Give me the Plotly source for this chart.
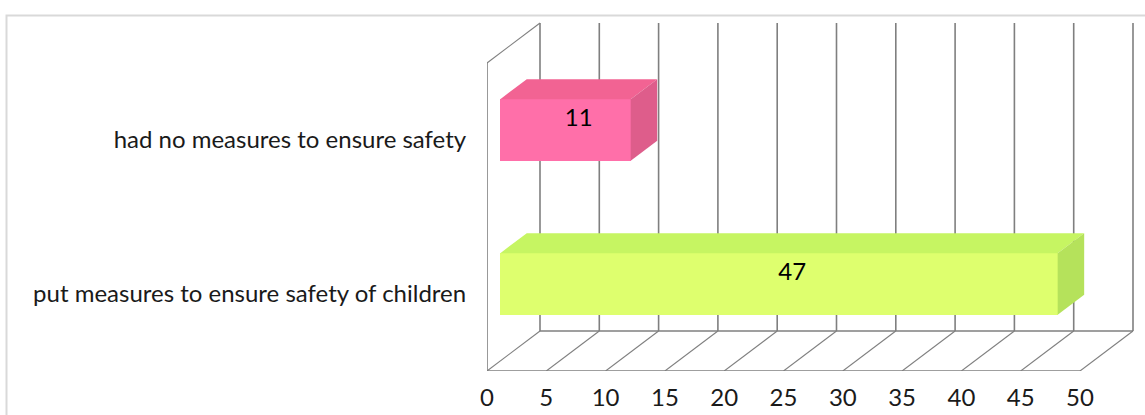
import plotly.graph_objects as go

# ---- data ----
categories = ["put measures to ensure safety of children", "had no measures to ensure safety"]
values = [47, 11]
x_ticks = [0, 5, 10, 15, 20, 25, 30, 35, 40, 45, 50]

# ---- styling ----
front_colors = ["#DEFF6E", "#FF6FA9"]
top_colors = ["#C6F562", "#F26393"]
side_colors = ["#B5E25B", "#DE5D8B"]
GRID = "#7F7F7F"
FONT = "Lato"
FS = 24

# ---- geometry of the oblique 3-D frame (axis units) ----
W, H = 1145, 415
ML, MR, MT, MB = 487, 5, 20, 44
PX_X = 593 / 50          # pixels per value unit
PX_Y = 154               # pixels per category band
DX = 53 / PX_X           # depth shift along x (value units)
DY = 40 / PX_Y           # depth shift along y (category units)
BAR_H = 0.4              # bar thickness (band fraction)
Z0, Z1 = 0.25, 0.75      # bar depth span (fraction of wall depth)

x_range = [0, (W - ML - MR) / PX_X]
y_range = [-0.5, -0.5 + (H - MT - MB) / PX_Y]
y_pos = list(range(len(categories)))
y_bot, y_top = -0.5, len(categories) - 0.5
x_max = x_ticks[-1]

shapes = []
line = dict(color=GRID, width=1.6)
thin = dict(color=GRID, width=1.1)
# back wall gridlines
for t in x_ticks:
    shapes.append(dict(type="line", xref="x", yref="y", layer="below",
                       x0=t + DX, x1=t + DX, y0=y_bot + DY, y1=y_top + DY, line=line))
# floor: front edge, back edge and depth lines
shapes.append(dict(type="line", xref="x", yref="y", layer="below",
                   x0=0, x1=x_max, y0=y_bot, y1=y_bot, line=line))
shapes.append(dict(type="line", xref="x", yref="y", layer="below",
                   x0=DX, x1=x_max + DX, y0=y_bot + DY, y1=y_bot + DY, line=line))
for t in x_ticks:
    shapes.append(dict(type="line", xref="x", yref="y", layer="below",
                       x0=t, x1=t + DX, y0=y_bot, y1=y_bot + DY, line=thin))
# side wall
shapes.append(dict(type="line", xref="x", yref="y", layer="below",
                   x0=0, x1=0, y0=y_bot, y1=y_top, line=line))
shapes.append(dict(type="line", xref="x", yref="y", layer="below",
                   x0=0, x1=DX, y0=y_top, y1=y_top + DY, line=thin))
# chart frame
px_to_paper_x = lambda p: (p - ML) / (W - ML - MR)
px_to_paper_y = lambda p: (H - MB - p) / (H - MT - MB)
shapes.append(dict(type="rect", xref="paper", yref="paper", layer="below",
                   x0=px_to_paper_x(6.5), x1=px_to_paper_x(W + 20),
                   y0=px_to_paper_y(H + 20), y1=px_to_paper_y(15.5),
                   line=dict(color="#D9D9D9", width=2), fillcolor="rgba(0,0,0,0)"))

fig = go.Figure()

for i, (yc, v) in enumerate(zip(y_pos, values)):
    lo, hi = yc - BAR_H / 2, yc + BAR_H / 2
    # front face
    fig.add_trace(go.Bar(
        y=[yc + Z0 * DY], x=[v], base=[Z0 * DX], orientation="h", width=BAR_H,
        marker=dict(color=front_colors[i], line=dict(color=front_colors[i], width=0)),
        hoverinfo="skip", showlegend=False))
    # top face
    fig.add_trace(go.Scatter(
        x=[Z0 * DX, v + Z0 * DX, v + Z1 * DX, Z1 * DX, Z0 * DX],
        y=[hi + Z0 * DY, hi + Z0 * DY, hi + Z1 * DY, hi + Z1 * DY, hi + Z0 * DY],
        fill="toself", fillcolor=top_colors[i], mode="lines",
        line=dict(width=0, color=top_colors[i]), hoverinfo="skip", showlegend=False))
    # side face
    fig.add_trace(go.Scatter(
        x=[v + Z0 * DX, v + Z1 * DX, v + Z1 * DX, v + Z0 * DX, v + Z0 * DX],
        y=[lo + Z0 * DY, lo + Z1 * DY, hi + Z1 * DY, hi + Z0 * DY, lo + Z0 * DY],
        fill="toself", fillcolor=side_colors[i], mode="lines",
        line=dict(width=0, color=side_colors[i]), hoverinfo="skip", showlegend=False))

# value labels at the centre of each box
fig.add_trace(go.Scatter(
    x=[v / 2 + (Z0 + Z1) / 2 * DX for v in values],
    y=[yc + (Z0 + Z1) / 2 * DY for yc in y_pos],
    text=[str(v) for v in values], mode="text",
    textfont=dict(family=FONT, size=FS, color="#000000"),
    hoverinfo="skip", showlegend=False))

fig.update_layout(
    width=W, height=H, autosize=False,
    margin=dict(l=ML, r=MR, t=MT, b=MB, pad=0),
    paper_bgcolor="white", plot_bgcolor="white",
    shapes=shapes, showlegend=False, bargap=0,
    font=dict(family=FONT, size=FS, color="#1A1A1A"),
)
fig.update_xaxes(
    range=x_range, tickvals=x_ticks, ticktext=[str(t) for t in x_ticks],
    tickfont=dict(family=FONT, size=FS, color="#1A1A1A"),
    showgrid=False, zeroline=False, showline=False,
    ticks="outside", ticklen=5, tickcolor="rgba(0,0,0,0)",
    automargin=False, fixedrange=True,
)
fig.update_yaxes(
    range=y_range, tickvals=y_pos, ticktext=categories,
    tickfont=dict(family=FONT, size=FS, color="#1A1A1A"),
    showgrid=False, zeroline=False, showline=False,
    ticks="outside", ticklen=15, tickcolor="rgba(0,0,0,0)",
    automargin=False, fixedrange=True,
)

fig.write_html("out.html")
